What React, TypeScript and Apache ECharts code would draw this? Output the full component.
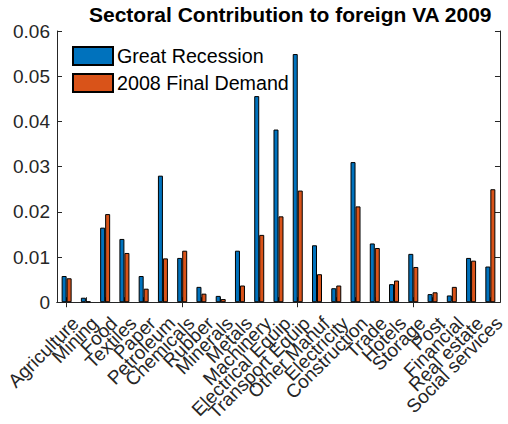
import React, { useEffect, useRef } from "react";
import * as echarts from "echarts";

const categories = [
  "Agriculture", "Mining", "Food", "Textiles", "Paper", "Petroleum", "Chemicals",
  "Rubber", "Minerals", "Metals", "Machinery", "Electrical Equip", "Transport Equip",
  "Other Manuf", "Electricity", "Construction", "Trade", "Hotels", "Storage", "Post",
  "Financial", "Real estate", "Social services",
];

const greatRecession = [
  0.0058, 0.0010, 0.0165, 0.0140, 0.0058, 0.0280, 0.0098, 0.0034, 0.0014, 0.0114,
  0.0456, 0.0382, 0.0549, 0.0126, 0.0031, 0.0310, 0.0130, 0.0040, 0.0107, 0.0018,
  0.0015, 0.0098, 0.0079,
];

const finalDemand2008 = [
  0.0053, 0.0002, 0.0195, 0.0109, 0.0030, 0.0097, 0.0114, 0.0019, 0.0007, 0.0037,
  0.0149, 0.0190, 0.0247, 0.0062, 0.0037, 0.0212, 0.0120, 0.0048, 0.0078, 0.0022,
  0.0034, 0.0092, 0.0250,
];

const seriesNames = ["Great Recession", "2008 Final Demand"];
const yTicks = { min: 0, max: 0.06, interval: 0.01 };

const FONT = "'Liberation Sans', Arial, Helvetica, sans-serif";
const AX = "#262626";
const BLUE = "#0072BD";
const ORANGE = "#D95319";

export default function App() {
  const ref = useRef<HTMLDivElement>(null);
  useEffect(() => {
    if (!ref.current) return;
    const chart = echarts.init(ref.current, undefined, { renderer: "svg" });
    const axisLine = { show: true, lineStyle: { color: AX, width: 1 } };
    const tick = { show: true, inside: true, length: 5, lineStyle: { color: AX, width: 1 } };
    chart.setOption({
      animation: false,
      backgroundColor: "#ffffff",
      title: {
        text: "Sectoral Contribution to foreign VA 2009",
        left: 89,
        top: 4,
        padding: 0,
        textStyle: { fontFamily: FONT, fontSize: 21, fontWeight: "bold", color: "#000" },
      },
      legend: {
        orient: "vertical",
        left: 72,
        top: 46,
        padding: 0,
        itemGap: 7,
        itemWidth: 40,
        itemHeight: 18,
        icon: "rect",
        textStyle: { fontFamily: FONT, fontSize: 19.7, color: "#000", padding: [0, 0, 0, -1] },
        data: seriesNames,
      },
      grid: { left: 57, top: 31, right: 7, bottom: 120 },
      xAxis: [
        {
          type: "category",
          data: categories,
          position: "bottom",
          axisLine,
          axisTick: { ...tick, alignWithLabel: true },
          axisLabel: {
            rotate: 45,
            interval: 0,
            margin: 9,
            verticalAlign: "top",
            padding: [3, 0, 0, 0],
            fontFamily: FONT,
            fontSize: 19,
            color: AX,
          },
        },
        {
          type: "category",
          data: categories,
          position: "top",
          axisLine,
          axisTick: { ...tick, alignWithLabel: true },
          axisLabel: { show: false },
        },
      ],
      yAxis: [
        {
          type: "value",
          ...yTicks,
          position: "left",
          axisLine,
          axisTick: tick,
          splitLine: { show: false },
          axisLabel: { margin: 7, fontFamily: FONT, fontSize: 19, color: AX },
        },
        {
          type: "value",
          ...yTicks,
          position: "right",
          axisLine,
          axisTick: tick,
          splitLine: { show: false },
          axisLabel: { show: false },
        },
      ],
      series: [
        {
          name: seriesNames[0],
          type: "bar",
          data: greatRecession,
          barWidth: 5,
          barGap: "0%",
          itemStyle: { color: BLUE, borderColor: "#000", borderWidth: 1 },
        },
        {
          name: seriesNames[1],
          type: "bar",
          data: finalDemand2008,
          barWidth: 5,
          barGap: "0%",
          itemStyle: { color: ORANGE, borderColor: "#000", borderWidth: 1 },
        },
      ],
    });
    return () => chart.dispose();
  }, []);
  return (
    <div
      ref={ref}
      style={{ position: "fixed", left: 0, top: 0, width: 508, height: 424, background: "#fff" }}
    />
  );
}
